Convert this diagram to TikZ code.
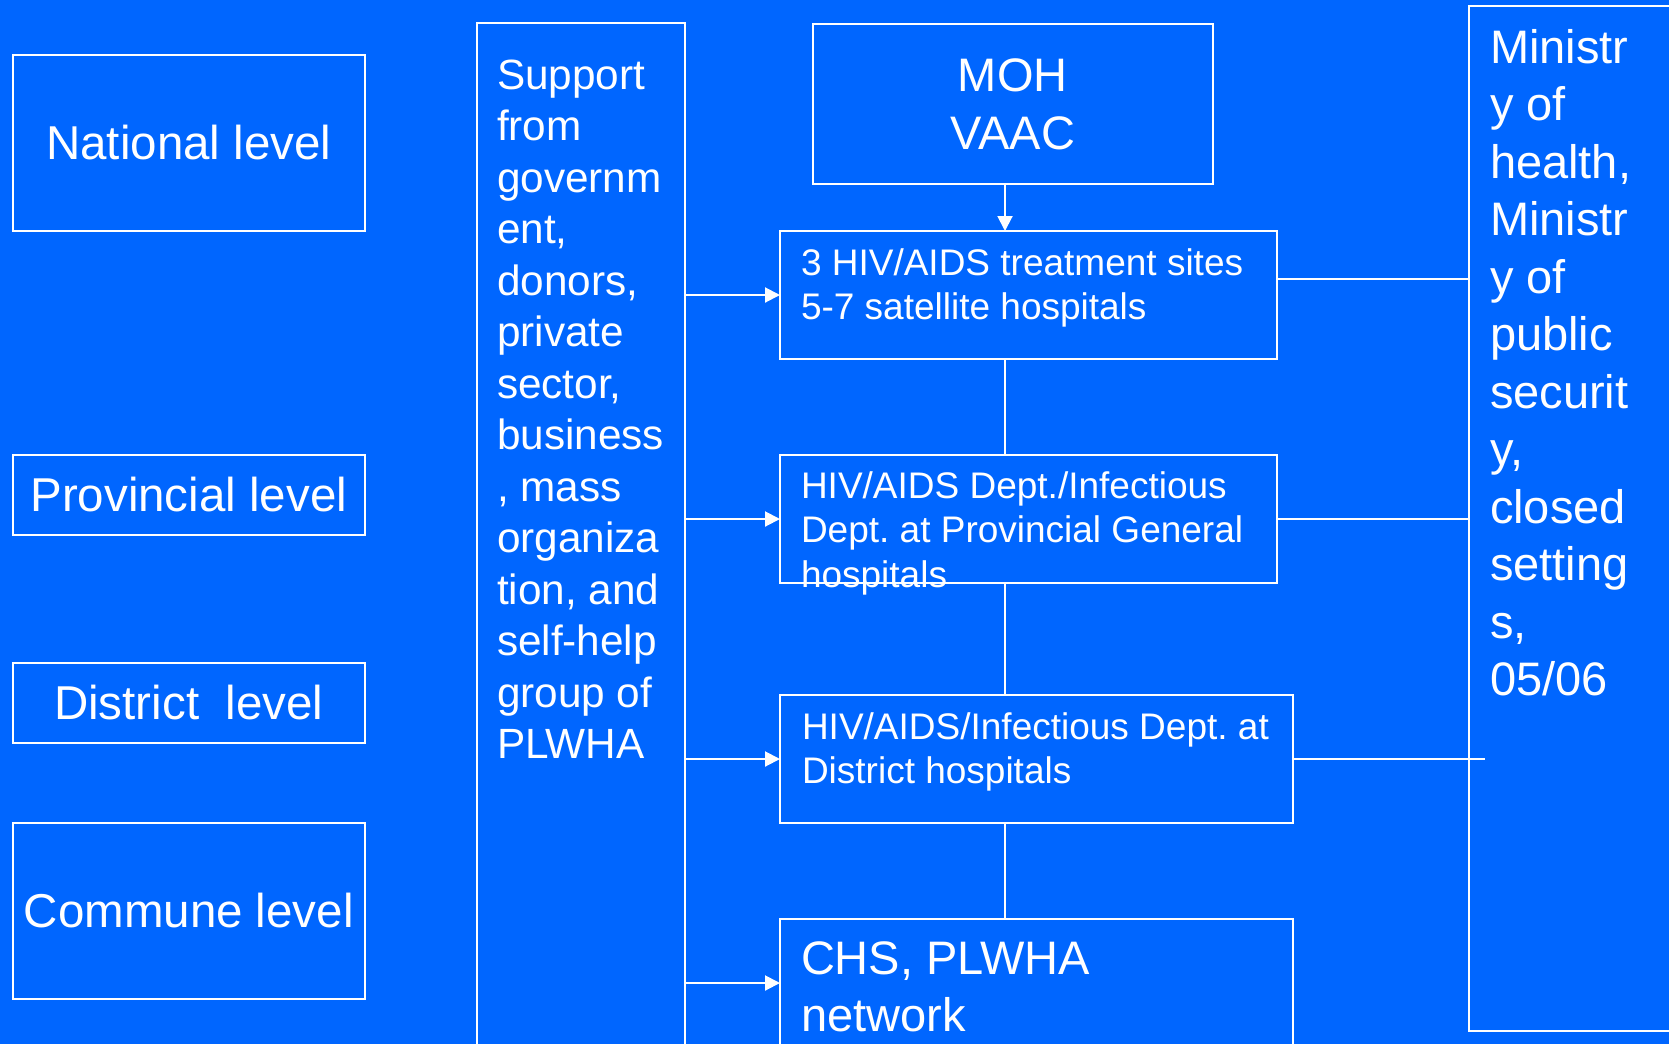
\documentclass[tikz,border=0pt]{standalone}
\usepackage{fontspec}
\setmainfont{Liberation Sans}
\usetikzlibrary{arrows.meta}
\definecolor{bg}{RGB}{0,102,255}
\frenchspacing
\begin{document}
\begin{tikzpicture}[x=1pt,y=-1pt,
  box/.style={draw=white, line width=2pt, inner sep=0pt, outer sep=0pt, text=white},
  lvl/.style={box, font=\fontsize{47.5}{57}\selectfont},
  txt/.style={text=white, inner sep=0pt, outer sep=0pt, align=left, anchor=base west},
  smalltxt/.style={txt, font=\fontsize{37}{44.5}\selectfont},
  conn/.style={draw=white, line width=2pt},
  arr/.style={conn, -{Triangle[length=15pt,width=15pt]}},
]
\fill[bg] (0,0) rectangle (1669,1044);
\useasboundingbox (0,0) rectangle (1669,1044);
\begin{scope}
\clip (0,0) rectangle (1669,1044);
% level boxes
\node[lvl, minimum width=352.5pt, minimum height=176pt] (nat) at (188.75,143) {National level};
\node[lvl, minimum width=352.5pt, minimum height=80pt] (prov) at (188.75,495) {Provincial level};
\node[lvl, minimum width=352.5pt, minimum height=80pt] (dist) at (188.75,703) {District\ \ level};
\node[lvl, minimum width=352.5pt, minimum height=176pt] (comm) at (188.75,911) {Commune level};
% support column (anchor = baseline of last line)
\node[box, minimum width=208pt, minimum height=1037pt] (sup) at (581,541.5) {};
\node[txt, font=\fontsize{42.3}{51.5}\selectfont] (suptxt) at (497,758.5) {Support\\from\\governm\\ent,\\donors,\\private\\sector,\\business\\, mass\\organiza\\tion, and\\self-help\\group of\\PLWHA};
% MOH
\node[box, align=center, font=\fontsize{47}{58}\selectfont, minimum width=400.5pt, minimum height=160pt] (moh) at (1012.75,104) {MOH\\VAAC};
% hierarchy boxes
\node[box, minimum width=497pt, minimum height=128pt] (b1) at (1028.5,295) {};
\node[box, minimum width=497pt, minimum height=128pt] (b2) at (1028.5,519) {};
\node[box, minimum width=513pt, minimum height=128pt] (b3) at (1036.5,759) {};
\node[box, minimum width=513pt, minimum height=128pt] (b4) at (1036.5,983) {};
\node[smalltxt] (b1txt) at (801,319.5) {3 HIV/AIDS treatment sites\\5-7 satellite hospitals};
\node[smalltxt] (b2txt) at (801,587) {HIV/AIDS Dept./Infectious\\Dept. at Provincial General\\hospitals};
\node[smalltxt] (b3txt) at (802,783.5) {HIV/AIDS/Infectious Dept. at\\District hospitals};
\node[txt, font=\fontsize{47}{57}\selectfont] (b4txt) at (801,1031) {CHS, PLWHA\\network};
% ministry column
\node[box, minimum width=231pt, minimum height=1025pt] (min) at (1584.5,518.5) {};
\node[txt, font=\fontsize{47}{57.5}\selectfont] (mintxt) at (1490,695.5) {Ministr\\y of\\health,\\Ministr\\y of\\public\\securit\\y,\\closed\\setting\\s,\\05/06};
% connectors
\coordinate (cx) at (1005,0);
\coordinate (l1) at (0,279);
\coordinate (l3end) at (1485,759);
\draw[arr] (moh.south -| cx) -- (b1.north -| cx);
\draw[conn] (b1.south -| cx) -- (b2.north -| cx);
\draw[conn] (b2.south -| cx) -- (b3.north -| cx);
\draw[conn] (b3.south -| cx) -- (b4.north -| cx);
\draw[arr] (sup.east |- b1.west) -- (b1.west);
\draw[arr] (sup.east |- b2.west) -- (b2.west);
\draw[arr] (sup.east |- b3.west) -- (b3.west);
\draw[arr] (sup.east |- b4.west) -- (b4.west);
\draw[conn] (b1.east |- l1) -- (min.west |- l1);
\draw[conn] (b2.east) -- (b2.east -| min.west);
\draw[conn] (b3.east) -- (l3end);
\end{scope}
\end{tikzpicture}
\end{document}
